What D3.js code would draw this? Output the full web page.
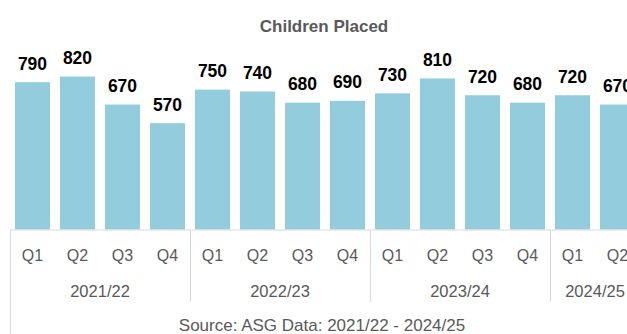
<!DOCTYPE html>
<meta charset="utf-8">
<script src="https://d3js.org/d3.v7.min.js"></script>
<style>
  body { margin: 0; background: #fff; }
  text { font-family: "Liberation Sans", Arial, sans-serif; }
</style>
<div id="my_dataviz"></div>
<script>

    // data
    var years = ["2021/22", "2021/22", "2021/22", "2021/22",
                 "2022/23", "2022/23", "2022/23", "2022/23",
                 "2023/24", "2023/24", "2023/24", "2023/24",
                 "2024/25", "2024/25"];
    var quarters = ["Q1", "Q2", "Q3", "Q4", "Q1", "Q2", "Q3", "Q4",
                    "Q1", "Q2", "Q3", "Q4", "Q1", "Q2"];
    var placed = [790, 820, 670, 570, 750, 740, 680, 690,
                  730, 810, 720, 680, 720, 670];
    var yearGroups = ["2021/22", "2022/23", "2023/24", "2024/25"];

    var W = 627, H = 334;
    var left = 10, base = 229.5, step = 45;

    var svg = d3.select("#my_dataviz")
      .append("svg")
        .attr("width", W)
        .attr("height", H);

    var keys = placed.map(function (d, i) { return i; });

    // Add X axis (chart carries on past the right edge)
    var x = d3.scaleBand()
      .domain(keys)
      .range([left, left + step * keys.length])
      .paddingInner(10 / 45)
      .paddingOuter(5 / 45);

    // Add Y axis
    var y = d3.scaleLinear()
      .domain([0, 1000])
      .range([base, 43]);

    // title
    svg.append("text")
      .attr("x", 324)
      .attr("y", 32)
      .style("text-anchor", "middle")
      .style("font-size", "17px")
      .style("font-weight", "bold")
      .style("fill", "#595959")
      .text("Children Placed");

    // bars
    svg.append("g")
      .selectAll("rect")
      .data(placed)
      .enter()
      .append("rect")
        .attr("x", function (d, i) { return x(i); })
        .attr("y", function (d) { return y(d); })
        .attr("width", x.bandwidth())
        .attr("height", function (d) { return base - y(d); })
        .attr("fill", "#93cddd");

    // value labels
    svg.append("g")
      .selectAll("text")
      .data(placed)
      .enter()
      .append("text")
        .attr("x", function (d, i) { return x(i) + x.bandwidth() / 2; })
        .attr("y", function (d) { return y(d) - 12.5; })
        .style("text-anchor", "middle")
        .style("font-size", "17.5px")
        .style("font-weight", "bold")
        .style("fill", "#000")
        .text(function (d) { return d; });

    // axis line
    svg.append("line")
      .attr("x1", left).attr("x2", W)
      .attr("y1", base + 0.5).attr("y2", base + 0.5)
      .attr("stroke", "#d9d9d9")
      .attr("stroke-width", 1);

    // quarter labels
    svg.append("g")
      .selectAll("text")
      .data(quarters)
      .enter()
      .append("text")
        .attr("x", function (d, i) { return x(i) + x.bandwidth() / 2; })
        .attr("y", 261)
        .style("text-anchor", "middle")
        .style("font-size", "16px")
        .style("fill", "#595959")
        .text(function (d) { return d; });

    // year groups: separators and labels
    yearGroups.forEach(function (g, gi) {
      var idx = keys.filter(function (i) { return years[i] === g; });
      var x0 = x(idx[0]) - x.step() * x.paddingOuter();
      var x1 = x0 + idx.length * x.step();
      svg.append("line")
        .attr("x1", Math.round(x0) + 0.5).attr("x2", Math.round(x0) + 0.5)
        .attr("y1", base + 0.5)
        .attr("y2", gi === 0 ? H : 302)
        .attr("stroke", "#d9d9d9")
        .attr("stroke-width", 1);
      svg.append("text")
        .attr("x", (x0 + x1) / 2)
        .attr("y", 297)
        .style("text-anchor", "middle")
        .style("font-size", "16.5px")
        .style("fill", "#595959")
        .text(g);
    });

    // source note
    svg.append("text")
      .attr("x", 322)
      .attr("y", 331)
      .style("text-anchor", "middle")
      .style("font-size", "17px")
      .style("fill", "#595959")
      .text("Source: ASG Data: 2021/22 - 2024/25");

</script>
